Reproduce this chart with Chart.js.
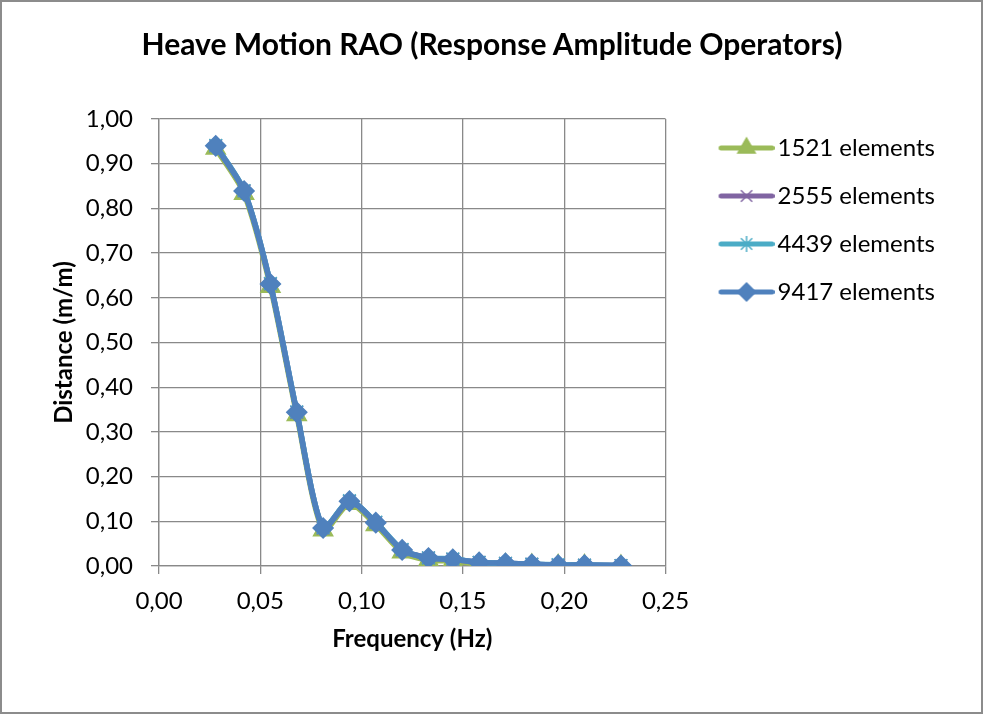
<!DOCTYPE html>
<html>
<head>
<meta charset="utf-8">
<script src="https://cdn.jsdelivr.net/npm/chart.js@4.4.0/dist/chart.umd.min.js"></script>
<style>
  body { margin: 0; background: #fff; }
  #quadro { position: relative; width: 984px; height: 715px; }
  canvas { position: absolute; left: 0; top: 0; }
  #titulo { position: absolute; left: 0; right: 0; top: 25px; text-align: center; font: bold 30px Lato, sans-serif; color: #000; }
  #borda { position: absolute; left: 0; top: 0; width: 983px; height: 714px; box-sizing: border-box; border: 2px solid #8c8c8c; pointer-events: none; }
</style>
</head>
<body>
<div id="quadro">
  <canvas id="grafico" width="984" height="715"></canvas>
  <div id="titulo">Heave Motion RAO (Response Amplitude Operators)</div>
  <div id="borda"></div>
</div>
<script>
// Dados
const frequencias = [0.028, 0.042, 0.055, 0.068, 0.081, 0.094, 0.107, 0.120, 0.133, 0.145, 0.158, 0.171, 0.184, 0.197, 0.210, 0.228];
const elem1521 = [0.934, 0.833, 0.625, 0.338, 0.080, 0.139, 0.092, 0.031, 0.013, 0.011, 0.004, 0.003, 0.002, 0.001, 0.001, 0.000];
const elem2555 = [0.940, 0.839, 0.631, 0.344, 0.085, 0.145, 0.097, 0.036, 0.018, 0.015, 0.008, 0.006, 0.004, 0.002, 0.002, 0.001];
const elem4439 = [0.941, 0.840, 0.632, 0.345, 0.086, 0.146, 0.098, 0.037, 0.018, 0.016, 0.008, 0.006, 0.004, 0.003, 0.002, 0.001];
const elem9417 = [0.940, 0.839, 0.631, 0.344, 0.085, 0.145, 0.097, 0.036, 0.018, 0.015, 0.008, 0.006, 0.004, 0.002, 0.002, 0.001];
const nomesSeries = ['1521 elements', '2555 elements', '4439 elements', '9417 elements'];

const cores = ['#9BBB59', '#8064A2', '#4BACC6', '#4F81BD'];
const marcadores = ['triangle', 'crossRot', 'star', 'rectRot'];
const raios = [11, 9, 9, 10];

const virgula = v => v.toFixed(2).replace('.', ',');
const fonte = 'Lato';

// Ícone da legenda: linha com o marcador no meio
function iconeLegenda(i) {
    const c = document.createElement('canvas');
    c.width = 94; c.height = 24;
    const ctx = c.getContext('2d');
    ctx.strokeStyle = cores[i];
    ctx.fillStyle = cores[i];
    ctx.lineWidth = 5;
    ctx.lineCap = 'round';
    ctx.beginPath();
    ctx.moveTo(40.5, 12);
    ctx.lineTo(91.5, 12);
    ctx.stroke();
    ctx.lineWidth = 1.5;
    ctx.lineCap = 'butt';
    Chart.helpers.drawPoint(ctx, { pointStyle: marcadores[i], radius: raios[i] - 1, borderWidth: 1.5, rotation: 0 }, 66, 12);
    return c;
}
const icones = [0, 1, 2, 3].map(iconeLegenda);

const todas = [elem1521, elem2555, elem4439, elem9417];
const datasets = todas.map((serie, i) => ({
    label: nomesSeries[i],
    data: serie.map((y, k) => ({ x: frequencias[k], y })),
    borderColor: cores[i],
    backgroundColor: cores[i],
    borderWidth: 5.5,
    tension: 0.25,
    pointStyle: marcadores[i],
    pointRadius: raios[i],
    pointBorderWidth: 1.5,
    pointBorderColor: cores[i],
    pointBackgroundColor: cores[i],
    order: 3 - i
}));

// sobe um pouco a legenda
const ajusteLegenda = {
    id: 'ajusteLegenda',
    afterLayout(chart) {
        chart.legend.top -= 7;
        chart.legend.bottom -= 7;
    }
};

const corGrade = '#898989';

new Chart(document.getElementById('grafico'), {
    type: 'line',
    data: { datasets },
    plugins: [ajusteLegenda],
    options: {
        responsive: false,
        animation: false,
        layout: { padding: { left: 40, top: 119, right: 39, bottom: 49 } },
        plugins: {
            title: { display: false },
            tooltip: { enabled: false },
            legend: {
                position: 'right',
                align: 'start',
                fullSize: false,
                maxWidth: 400,
                labels: {
                    usePointStyle: true,
                    pointStyleWidth: 76,
                    padding: 24,
                    color: '#000',
                    font: { family: fonte, size: 24 },
                    sort: (a, b) => a.datasetIndex - b.datasetIndex,
                    generateLabels(chart) {
                        const itens = Chart.defaults.plugins.legend.labels.generateLabels(chart);
                        itens.forEach(it => { it.pointStyle = icones[it.datasetIndex]; });
                        return itens;
                    }
                }
            }
        },
        scales: {
            x: {
                type: 'linear',
                min: 0,
                max: 0.25,
                afterFit: s => { s.height = 100; },
                ticks: { stepSize: 0.05, callback: virgula, color: '#000', padding: 13, font: { family: fonte, size: 24 } },
                grid: { color: corGrade, lineWidth: 1.3, tickLength: 8 },
                border: { color: corGrade, width: 1.3 },
                title: { display: true, text: 'Frequency (Hz)', color: '#000', font: { family: fonte, size: 24, weight: 'bold' }, padding: { top: 0, bottom: 12 } }
            },
            y: {
                min: 0,
                max: 1,
                afterFit: s => { s.width = 119; },
                ticks: { stepSize: 0.1, callback: virgula, color: '#000', padding: 18, font: { family: fonte, size: 24 } },
                grid: { color: corGrade, lineWidth: 1.3, tickLength: 8 },
                border: { color: corGrade, width: 1.3 },
                title: { display: true, text: 'Distance (m/m)', color: '#000', font: { family: fonte, size: 24, weight: 'bold' }, padding: { top: 10, bottom: 0 } }
            }
        }
    }
});
</script>
</body>
</html>
